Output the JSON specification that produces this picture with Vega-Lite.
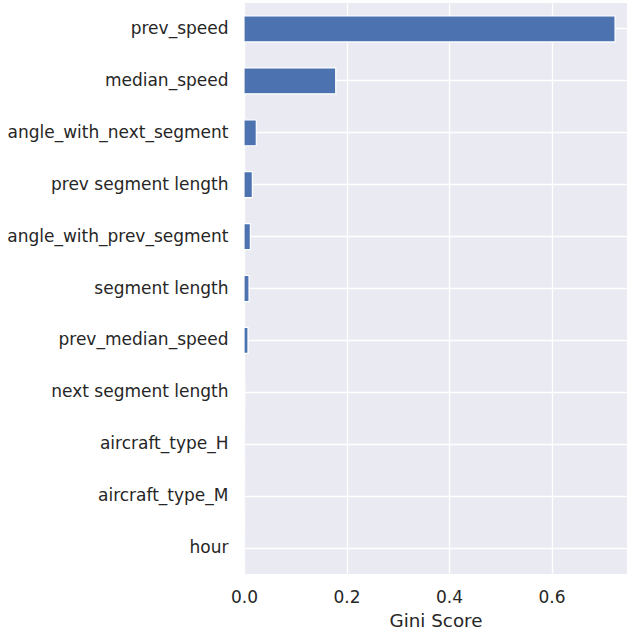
{
  "$schema": "https://vega.github.io/schema/vega-lite/v6.json",
  "width": 383,
  "height": 571,
  "autosize": {"type": "none"},
  "padding": {"left": 244, "top": 3, "right": 0, "bottom": 60},
  "background": "white",
  "config": {
    "view": {"fill": "#EAEAF2", "stroke": null},
    "font": "DejaVu Sans",
    "axis": {
      "domain": false,
      "ticks": false,
      "gridColor": "white",
      "gridWidth": 1.3,
      "labelColor": "#262626",
      "titleColor": "#262626",
      "labelFont": "DejaVu Sans",
      "titleFont": "DejaVu Sans",
      "labelFontSize": 17,
      "titleFontSize": 18.3,
      "titleFontWeight": "normal"
    }
  },
  "data": {
    "values": [
      {"feature": "prev_speed", "gini": 0.724},
      {"feature": "median_speed", "gini": 0.179},
      {"feature": "angle_with_next_segment", "gini": 0.024},
      {"feature": "prev segment length", "gini": 0.0163},
      {"feature": "angle_with_prev_segment", "gini": 0.0124},
      {"feature": "segment length", "gini": 0.0098},
      {"feature": "prev_median_speed", "gini": 0.0078},
      {"feature": "next segment length", "gini": 0.0012},
      {"feature": "aircraft_type_H", "gini": 0.0006},
      {"feature": "aircraft_type_M", "gini": 0.0004},
      {"feature": "hour", "gini": 0.0002}
    ]
  },
  "mark": {"type": "bar", "color": "#4C72B0", "stroke": "white", "strokeWidth": 1.2},
  "encoding": {
    "y": {
      "field": "feature",
      "type": "nominal",
      "sort": null,
      "scale": {"paddingInner": 0.5, "paddingOuter": 0.25},
      "axis": {"title": null, "grid": true, "gridDash": [], "labelPadding": 16, "labelLimit": 300}
    },
    "x": {
      "field": "gini",
      "type": "quantitative",
      "scale": {"domain": [0, 0.7473], "nice": false, "zero": true},
      "axis": {
        "title": "Gini Score",
        "values": [0, 0.2, 0.4, 0.6],
        "format": ".1f",
        "labelPadding": 15,
        "titlePadding": 7,
        "labelFlush": false
      }
    }
  }
}
